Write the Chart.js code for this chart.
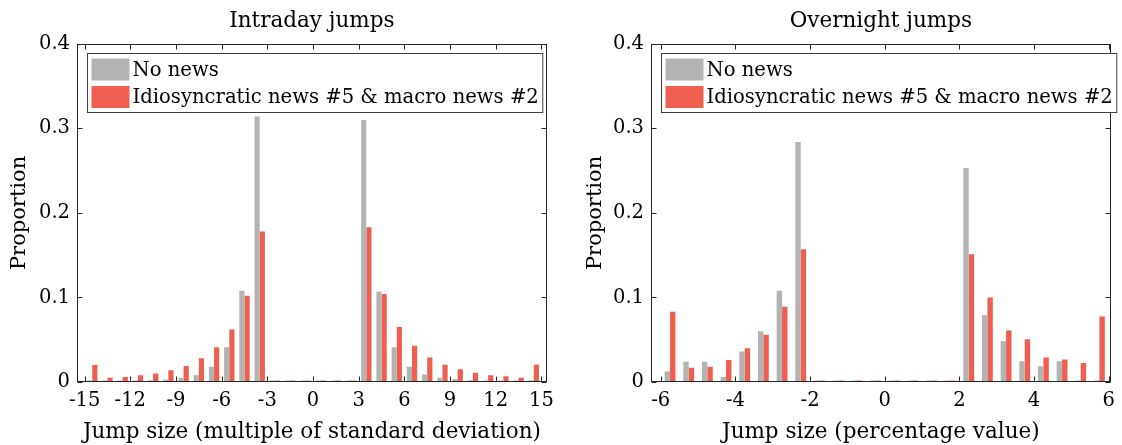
<!DOCTYPE html>
<html>
<head>
<meta charset="utf-8">
<script src="https://cdn.jsdelivr.net/npm/chart.js@4/dist/chart.umd.min.js"></script>
<style>
  html, body { margin: 0; padding: 0; background: #fff; }
  .row { display: flex; width: 1122px; height: 445px; }
  canvas { display: block; }
</style>
</head>
<body>
<div class="row">
  <canvas id="intraday" width="561" height="445"></canvas>
  <canvas id="overnight" width="561" height="445"></canvas>
</div>
<script>
const seriesNames = ['No news', 'Idiosyncratic news #5 & macro news #2'];
const seriesColors = ['#b3b3b3', '#ef5f4f'];
const yTicks = [0, 0.1, 0.2, 0.3, 0.4];

// intraday: bins of one standard deviation
const intradayBins = [-14.5, -13.5, -12.5, -11.5, -10.5, -9.5, -8.5, -7.5, -6.5, -5.5, -4.5, -3.5,
  -2.5, -1.5, -0.5, 0.5, 1.5, 2.5,
  3.5, 4.5, 5.5, 6.5, 7.5, 8.5, 9.5, 10.5, 11.5, 12.5, 13.5, 14.5];
const intradayNoNews = [0.001, 0.0005, 0.001, 0.001, 0.002, 0.003, 0.005, 0.008, 0.018, 0.041, 0.108, 0.314,
  0, 0, 0, 0, 0, 0,
  0.310, 0.107, 0.041, 0.018, 0.009, 0.005, 0.0035, 0.002, 0.0015, 0.001, 0.0005, 0.002];
const intradayNews = [0.020, 0.005, 0.006, 0.008, 0.010, 0.014, 0.019, 0.028, 0.041, 0.062, 0.102, 0.178,
  0, 0, 0, 0, 0, 0,
  0.183, 0.104, 0.065, 0.043, 0.029, 0.0205, 0.015, 0.011, 0.008, 0.0067, 0.005, 0.0205];
const intradayTicks = [-15, -12, -9, -6, -3, 0, 3, 6, 9, 12, 15];

// overnight: bins of half a percent
const overnightBins = [-5.75, -5.25, -4.75, -4.25, -3.75, -3.25, -2.75, -2.25,
  -1.75, -1.25, -0.75, -0.25, 0.25, 0.75, 1.25, 1.75,
  2.25, 2.75, 3.25, 3.75, 4.25, 4.75, 5.25, 5.75];
const overnightNoNews = [0.0125, 0.024, 0.024, 0.006, 0.036, 0.060, 0.108, 0.284,
  0, 0, 0, 0, 0, 0, 0, 0,
  0.253, 0.079, 0.0486, 0.0245, 0.0186, 0.0245, 0, 0];
const overnightNews = [0.083, 0.017, 0.018, 0.026, 0.040, 0.056, 0.089, 0.157,
  0, 0, 0, 0, 0, 0, 0, 0,
  0.151, 0.100, 0.061, 0.0505, 0.029, 0.0265, 0.0225, 0.0774];
const overnightTicks = [-6, -4, -2, 0, 2, 4, 6];

const FONT = 'DejaVu Serif';
const INK = '#262626';

// box around the axes, inward ticks on all four sides, legend inside the box
const framePlugin = {
  id: 'frame',
  afterDraw(chart) {
    const { ctx, chartArea: a, scales: { x, y } } = chart;
    const L = Math.round(a.left) + 0.5, R = Math.round(a.right) - 0.5;
    const T = Math.round(a.top) + 0.5, B = Math.round(a.bottom) - 0.5;
    ctx.save();
    ctx.strokeStyle = INK;
    ctx.lineWidth = 1;
    ctx.strokeRect(L, T, R - L, B - T);
    ctx.beginPath();
    x.ticks.forEach(t => {
      const px = Math.round(x.getPixelForValue(t.value)) + 0.5;
      ctx.moveTo(px, B); ctx.lineTo(px, B - 5);
      ctx.moveTo(px, T); ctx.lineTo(px, T + 5);
    });
    y.ticks.forEach(t => {
      const py = Math.round(y.getPixelForValue(t.value)) + 0.5;
      ctx.moveTo(L, py); ctx.lineTo(L + 5, py);
      ctx.moveTo(R, py); ctx.lineTo(R - 5, py);
    });
    ctx.stroke();

    // legend
    ctx.font = '19.6px "' + FONT + '"';
    const ds = chart.data.datasets;
    const textW = Math.max(...ds.map(d => ctx.measureText(d.label).width));
    const bx = L + 10, by = T + 9;
    const bw = 44 + textW + 5, bh = 59;
    ctx.fillStyle = '#fff';
    ctx.fillRect(bx, by, bw, bh);
    ctx.strokeStyle = '#404040';
    ctx.strokeRect(bx, by, bw, bh);
    ctx.textBaseline = 'middle';
    ds.forEach((d, i) => {
      const cy = by + 16 + i * 27.5;
      ctx.fillStyle = d.backgroundColor;
      ctx.fillRect(bx + 4, cy - 11, 38, 22);
      ctx.fillStyle = '#000';
      ctx.fillText(d.label, bx + 45, cy + 1);
    });
    ctx.restore();
  }
};

function makeChart(id, opts) {
  const datasets = [opts.noNews, opts.news].map((vals, k) => ({
    label: seriesNames[k],
    data: opts.bins.map((b, i) => ({ x: b, y: vals[i] })),
    backgroundColor: seriesColors[k],
    borderWidth: 0,
    minBarLength: 1.5,
    barPercentage: 1,
    categoryPercentage: opts.groupWidth
  }));
  return new Chart(document.getElementById(id), {
    type: 'bar',
    data: { datasets },
    options: {
      responsive: false,
      animation: false,
      layout: { padding: opts.padding },
      plugins: {
        legend: { display: false },
        tooltip: { enabled: false },
        title: {
          display: true,
          text: opts.title,
          fullSize: false,
          color: '#000',
          font: { family: FONT, size: 21.5, weight: 'normal' },
          padding: { top: 9, bottom: 9 }
        }
      },
      scales: {
        x: {
          type: 'linear',
          offset: false,
          min: opts.xMin,
          max: opts.xMax,
          grid: { display: false, drawTicks: false },
          border: { display: false },
          afterBuildTicks: s => { s.ticks = opts.ticks.map(v => ({ value: v })); },
          afterFit: s => { s.height = 63; },
          ticks: {
            color: '#000',
            padding: 7,
            maxRotation: 0,
            font: { family: FONT, size: 19.5 },
            callback: v => String(v)
          },
          title: {
            display: true,
            text: opts.xTitle,
            color: '#000',
            font: { family: FONT, size: 21.5 },
            padding: { top: 0, bottom: 0 }
          }
        },
        y: {
          min: 0,
          max: 0.4,
          grid: { display: false, drawTicks: false },
          border: { display: false },
          afterBuildTicks: s => { s.ticks = yTicks.map(v => ({ value: v })); },
          afterFit: s => { s.width = opts.yWidth; },
          ticks: {
            color: '#000',
            padding: 7,
            font: { family: FONT, size: 19.5 },
            callback: v => String(v)
          },
          title: {
            display: true,
            text: 'Proportion',
            color: '#000',
            font: { family: FONT, size: 21 },
            padding: { top: 7, bottom: 0 }
          }
        }
      }
    },
    plugins: [framePlugin]
  });
}

makeChart('intraday', {
  bins: intradayBins, noNews: intradayNoNews, news: intradayNews, ticks: intradayTicks,
  xMin: -15.5, xMax: 15.35, groupWidth: 0.68,
  title: 'Intraday jumps',
  xTitle: 'Jump size (multiple of standard deviation)',
  padding: { left: 0, right: 10, top: 0, bottom: 0 },
  yWidth: 77
});

makeChart('overnight', {
  bins: overnightBins, noNews: overnightNoNews, news: overnightNews, ticks: overnightTicks,
  xMin: -6.26, xMax: 6.05, groupWidth: 0.58,
  title: 'Overnight jumps',
  xTitle: 'Jump size (percentage value)',
  padding: { left: 15, right: 6, top: 0, bottom: 0 },
  yWidth: 75
});
</script>
</body>
</html>
